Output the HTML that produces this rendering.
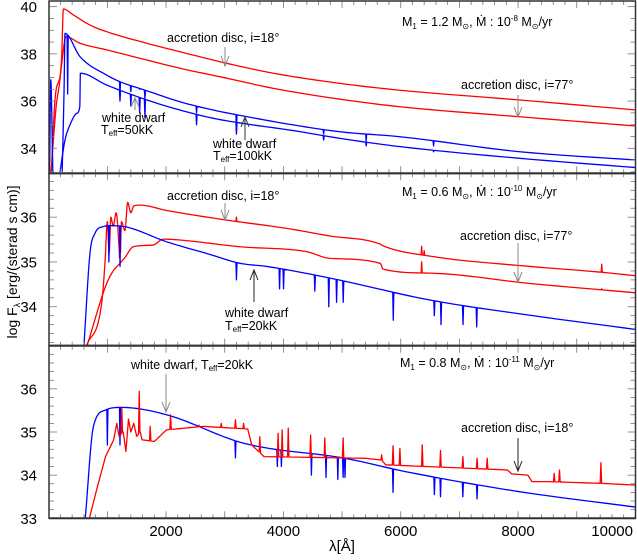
<!DOCTYPE html>
<html><head><meta charset="utf-8"><style>
html,body{margin:0;padding:0;background:#fff;}
svg{display:block;font-family:"Liberation Sans",sans-serif;}
</style></head><body>
<svg id="chart" width="637" height="560" viewBox="0 0 637 560" xmlns="http://www.w3.org/2000/svg">
<defs>
<clipPath id="c1"><rect x="49" y="1" width="587" height="172.3"/></clipPath>
<clipPath id="c2"><rect x="49" y="173.3" width="587" height="172.4"/></clipPath>
<clipPath id="c3"><rect x="49" y="345.7" width="587" height="172.6"/></clipPath>
</defs>
<g id="series"></g>
<g id="axes"></g>
<g id="annot" font-size="12.5" fill="#000">
 <text x="167" y="42">accretion disc,  i=18°</text>
 <text x="402" y="26">M<tspan font-size="8" dy="3">1</tspan><tspan dy="-3"> = 1.2 M</tspan><tspan font-size="8" dy="3">⊙</tspan><tspan dy="-3">, Ṁ :  10</tspan><tspan font-size="8" dy="-5">-8</tspan><tspan dy="5"> M</tspan><tspan font-size="8" dy="3">⊙</tspan><tspan dy="-3">/yr</tspan></text>
 <text x="461" y="89">accretion disc, i=77°</text>
 <text x="102" y="122">white dwarf</text>
 <text x="101" y="134">T<tspan font-size="8" dy="2">eff</tspan><tspan dy="-2">=50kK</tspan></text>
 <text x="213" y="148">white dwarf</text>
 <text x="213" y="160">T<tspan font-size="8" dy="2">eff</tspan><tspan dy="-2">=100kK</tspan></text>
 <text x="167" y="200">accretion disc,  i=18°</text>
 <text x="402" y="196">M<tspan font-size="8" dy="3">1</tspan><tspan dy="-3"> = 0.6 M</tspan><tspan font-size="8" dy="3">⊙</tspan><tspan dy="-3">, Ṁ :  10</tspan><tspan font-size="8" dy="-5">-10</tspan><tspan dy="5"> M</tspan><tspan font-size="8" dy="3">⊙</tspan><tspan dy="-3">/yr</tspan></text>
 <text x="460" y="240">accretion disc, i=77°</text>
 <text x="225" y="317">white dwarf</text>
 <text x="225" y="330">T<tspan font-size="8" dy="2">eff</tspan><tspan dy="-2">=20kK</tspan></text>
 <text x="131" y="369">white dwarf, T<tspan font-size="8" dy="2">eff</tspan><tspan dy="-2">=20kK</tspan></text>
 <text x="400" y="367">M<tspan font-size="8" dy="3">1</tspan><tspan dy="-3"> = 0.8 M</tspan><tspan font-size="8" dy="3">⊙</tspan><tspan dy="-3">, Ṁ :  10</tspan><tspan font-size="8" dy="-5">-11</tspan><tspan dy="5"> M</tspan><tspan font-size="8" dy="3">⊙</tspan><tspan dy="-3">/yr</tspan></text>
 <text x="461" y="432">accretion disc, i=18°</text>
 <g stroke="#888" fill="none" stroke-width="1">
  <path d="M225 47V66M221 56L225 66L229 56"/>
  <path d="M518 95V117M514 107L518 117L522 107"/>
  <path d="M135 110V98M131 107L135 98L139 107"/>
  <path d="M245 140V117M241 127L245 117L249 127" stroke="#333"/>
  <path d="M225 203V220M221 210L225 220L229 210"/>
  <path d="M518 243V282M514 272L518 282L522 272"/>
  <path d="M254 302V270M250 280L254 270L258 280" stroke="#222"/>
  <path d="M166 374V412M162 402L166 412L170 402"/>
  <path d="M518 438V471M514 461L518 471L522 461" stroke="#222"/>
 </g>
 <text transform="translate(17,262) rotate(-90)" text-anchor="middle" font-size="14">log F<tspan font-size="9" dy="3">λ</tspan><tspan dy="-3"> [erg/(sterad s cm)]</tspan></text>
 <text x="342" y="551" text-anchor="middle" font-size="15">λ[Å]</text>
</g>
</svg>
<script>
// ---------- data ----------
const p1Disc18Lam = [40,120,221,250,420,704,988,1670,2238,3034,3829,4965,5988,8004,10022];
const p1Disc18Val = [33,35.6,37.88,39.9,39.65,39.22,38.94,38.45,38.09,37.6,37.18,36.75,36.46,36.05,35.62];
const p1Disc77Lam = [45,107,193,295,534,988,1670,2238,3034,3829,4965,5988,8004,10022];
const p1Disc77Val = [33,36.05,37.03,38.73,38.45,38.17,37.74,37.39,36.97,36.54,36.08,35.76,35.34,34.94];
const p1Wd50Lam = [230,262,278,534,988,1215,1670,2238,2806,3375,4170,4965,5988,8004,10022];
const p1Wd50Val = [33,36.5,38.87,37.88,37.1,36.82,36.44,35.97,35.62,35.34,34.99,34.70,34.49,33.86,33.5];
const p1Wd100Lam = [193,278,363,477,530,540,988,1670,2238,2806,3375,4170,4965,5988,8004,10022];
const p1Wd100Val = [33,34.35,34.99,35.48,35.77,37.18,36.68,36.05,35.62,35.27,35.03,34.75,34.42,34.07,33.58,33.18];
const p1SpikeLam = [15,35,70];
const p1SpikeVal = [33,36.9,33];
const p1Wd50Abs = [[323,36.3],[1215,36.3],[1400,36.4],[1550,36.5],[1640,36.1],[2520,35.5],[3200,34.7],[4686,34.6],[5411,34.3],[6560,34.1]];
const p1Wd100Abs = [[1215,36.0],[1400,35.8],[1550,35.5],[1640,35.3],[2520,35.0],[3200,34.6],[4686,34.35],[5411,34.1],[6560,33.85]];
const p2Disc18Lam = [647,903,960,1000,1030,1060,1100,1150,1200,1216,1240,1300,1346,1400,1450,1556,2011,3005,4057,4795,5650,5700,6499,8204,9340,10022];
const p2Disc18Val = [33.14,34.08,35.0,35.9,35.2,36.0,35.8,36.1,35.3,34.9,35.9,35.7,36.33,36.1,36.25,36.27,36.15,35.94,35.75,35.58,35.40,35.36,35.13,34.9,34.78,34.69];
const p2Disc77Lam = [647,988,1100,1215,1300,1442,1783,1953,2238,3261,4397,4795,5650,5700,6499,8204,10022];
const p2Disc77Val = [33.1,34.52,34.8,34.97,35.1,35.34,35.38,35.51,35.49,35.34,35.23,35.08,34.97,34.84,34.75,34.52,34.31];
const p2WdLam = [601,704,789,931,1074,1329,2011,2693,3261,3716,4795,6499,8204,10022];
const p2WdVal = [33.14,35.2,35.64,35.79,35.81,35.78,35.45,35.19,34.97,34.9,34.64,34.15,33.81,33.49];
const p2WdAbs = [[1026,35.0],[1216,34.9],[3200,34.6],[3935,34.4],[4003,34.4],[4536,34.35],[4774,34.0],[4907,34.1],[5020,34.1],[5873,33.7],[6573,33.8],[6687,33.6],[7062,33.6],[7295,33.55]];
const p2Disc18Em = [[1216,35.6],[3200,36.0],[6357,35.35],[6400,35.25],[9426,34.95]];
const p2Disc77Em = [[6357,35.0],[9426,34.4]];
const p3DiscLam = [693,830,969,1108,1160,1200,1270,1316,1360,1400,1450,1500,1560,1590,1800,2008,2630,3392,3460,3670,5398,5674,5743,7820,7890,8167,8236,8510,9414,10000];
const p3DiscVal = [33,33.73,34.43,34.82,35.2,34.9,35.0,34.55,35.3,35.0,35.2,34.9,35.0,34.82,34.78,35.05,35.13,35.07,34.70,34.43,34.39,34.35,34.24,34.12,34.03,34.0,33.85,33.85,33.81,33.77];
const p3DiscEm = [[1246,35.55],[1543,35.94],[1730,35.13],[2077,35.40],[2560,35.16],[2941,35.20],[3183,35.28],[3322,35.20],[3599,34.89],[3910,34.97],[3979,35.05],[4083,35.09],[4464,34.93],[4706,34.86],[5018,34.86],[5675,34.47],[5869,34.68],[5986,34.62],[6367,34.70],[6678,34.57],[7059,34.43],[7301,34.39],[7474,34.39],[8616,34.04],[8706,34.12],[9412,34.29]];
const p3WdLam = [623,762,969,1246,2007,3322,5052,6090,8007,10000];
const p3WdVal = [33,35.13,35.51,35.57,35.4,34.74,34.39,34.08,33.62,33.26];
const p3WdAbs = [[1000,34.7],[1215,34.7],[3183,34.4],[3897,34.2],[3966,34.2],[4478,34.0],[4727,33.95],[4928,33.9],[5018,33.95],[5050,33.95],[5869,33.6],[6574,33.55],[6678,33.5],[7059,33.5],[7301,33.45]];
const xTickLabels = ["2000","4000","6000","8000","10000"];
const p1YTicks = [34,36,38,40];
const p2YTicks = [34,35,36];
const p3YTicks = [33,34,35,36];

const panels = [
  {top:1, bottom:173.3, vmin:32.94, vmax:40.24, clip:'c1', minor:0.5},
  {top:173.3, bottom:345.7, vmin:33.13, vmax:36.98, clip:'c2', minor:0.2},
  {top:345.7, bottom:518.3, vmin:33, vmax:37.0, clip:'c3', minor:0.2}
];
const X0 = 48.7, X1 = 635.4, LMAX = 10000;
function xs(l){ return X0 + l/LMAX*(X1-X0); }
function ys(p,v){ return p.bottom - (v-p.vmin)/(p.vmax-p.vmin)*(p.bottom-p.top); }
function slopes(lam,val,linear){
  const n=lam.length, d=[], m=new Array(n).fill(0);
  for(let i=0;i<n-1;i++) d.push((val[i+1]-val[i])/(lam[i+1]-lam[i]));
  if(linear) return null;
  m[0]=d[0]; m[n-1]=d[n-2];
  for(let i=1;i<n-1;i++){ m[i]=(d[i-1]*d[i]<=0)?0:(d[i-1]+d[i])/2; }
  for(let i=0;i<n-1;i++){
    if(d[i]===0){m[i]=0;m[i+1]=0;continue;}
    const a=m[i]/d[i], b=m[i+1]/d[i], s=a*a+b*b;
    if(s>9){const t=3/Math.sqrt(s); m[i]=t*a*d[i]; m[i+1]=t*b*d[i];}
  }
  return m;
}
function evalS(lam,val,m,l){
  if(l<=lam[0]) return val[0];
  if(l>=lam[lam.length-1]) return val[val.length-1];
  let i=1; while(l>lam[i]) i++;
  const h=lam[i]-lam[i-1], t=(l-lam[i-1])/h;
  if(!m) return val[i-1]+t*(val[i]-val[i-1]);
  const t2=t*t, t3=t2*t;
  return (2*t3-3*t2+1)*val[i-1]+(t3-2*t2+t)*h*m[i-1]+(-2*t3+3*t2)*val[i]+(t3-t2)*h*m[i];
}
const NS='http://www.w3.org/2000/svg';
const gS=document.getElementById('series'), gA=document.getElementById('axes');
function buildPts(lam,val,feats,w,linear){
  const m=slopes(lam,val,linear);
  let pts=[];
  for(let i=0;i<lam.length-1;i++){
    const k=8;
    for(let j=0;j<k;j++){ const l=lam[i]+(lam[i+1]-lam[i])*j/k; pts.push([l,evalS(lam,val,m,l)]); }
  }
  pts.push([lam[lam.length-1],val[val.length-1]]);
  (feats||[]).forEach(f=>{
    const l=f[0];
    if(l<lam[0]||l>lam[lam.length-1]) return;
    pts=pts.filter(q=>Math.abs(q[0]-l)>=w);
    pts.push([l-w,evalS(lam,val,m,l-w)]); pts.push([l,f[1]]); pts.push([l+w,evalS(lam,val,m,l+w)]);
  });
  pts.sort((a,b)=>a[0]-b[0]);
  return pts;
}
function drawSeries(pi,lam,val,feats,color,name,w,linear){
  const p=panels[pi];
  const pts=buildPts(lam,val,feats,w||9,linear);
  const pl=document.createElementNS(NS,'polyline');
  
  
  pl.setAttribute('points', pts.map(q=>xs(q[0]).toFixed(2)+','+ys(p,q[1]).toFixed(2)).join(' '));
  pl.setAttribute('fill','none'); pl.setAttribute('stroke',color); pl.setAttribute('stroke-width','1.3');
  pl.setAttribute('stroke-linejoin','round');
  pl.setAttribute('clip-path','url(#'+p.clip+')');
  gS.appendChild(pl);
}
drawSeries(0,p1Disc18Lam,p1Disc18Val,[],'#f00','p1-disc-18-line');
drawSeries(0,p1Disc77Lam,p1Disc77Val,[],'#f00','p1-disc-77-line');
drawSeries(0,p1Wd50Lam,p1Wd50Val,p1Wd50Abs,'#00f','p1-wd-50kK-line');
drawSeries(0,p1Wd100Lam,p1Wd100Val,p1Wd100Abs,'#00f','p1-wd-100kK-line');
drawSeries(0,p1SpikeLam,p1SpikeVal,[],'#00f','p1-wd-spike-line');
drawSeries(1,p2Disc18Lam,p2Disc18Val,p2Disc18Em,'#f00','p2-disc-18-line');
drawSeries(1,p2Disc77Lam,p2Disc77Val,p2Disc77Em,'#f00','p2-disc-77-line');
drawSeries(1,p2WdLam,p2WdVal,p2WdAbs,'#00f','p2-wd-20kK-line');
drawSeries(2,p3WdLam,p3WdVal,p3WdAbs,'#00f','p3-wd-20kK-line');
drawSeries(2,p3DiscLam,p3DiscVal,p3DiscEm,'#f00','p3-disc-18-line',12,true);

function line(x1,y1,x2,y2,w,c){
  const l=document.createElementNS(NS,'line');
  l.setAttribute('x1',x1);l.setAttribute('y1',y1);l.setAttribute('x2',x2);l.setAttribute('y2',y2);
  l.setAttribute('stroke',c||'#444');l.setAttribute('stroke-width',w||1);
  gA.appendChild(l); return l;
}
const yTickSets=[p1YTicks,p2YTicks,p3YTicks];
panels.forEach((p,pi)=>{
  for(let l=200;l<LMAX;l+=200){
    const major = l%1000===0, len = major?7:4, x=xs(l);
    line(x,p.bottom,x,p.bottom-len,0.8,'#777');
    line(x,p.top,x,p.top+len,0.8,'#777');
  }
  const start=Math.ceil(p.vmin/p.minor-1e-6)*p.minor;
  for(let v=start; v<=p.vmax+1e-6; v+=p.minor){
    const y=ys(p,v), major=Math.abs(v-Math.round(v))<1e-6 && (pi>0 || Math.round(v)%2===0);
    const len=major?8:5;
    line(49,y,49+len,y,0.8,'#777');
    line(635.5,y,635.5-len,y,0.8,'#777');
  }
  yTickSets[pi].forEach(v=>{
    const t=document.createElementNS(NS,'text');
    
    
    t.setAttribute('x',37); t.setAttribute('y',ys(p,v)+5.5);
    t.setAttribute('text-anchor','end'); t.setAttribute('font-size','15');
    t.textContent=String(v); gA.appendChild(t);
  });
  const fr=document.createElementNS(NS,'rect');
  
  
  fr.setAttribute('x',49);fr.setAttribute('y',p.top);fr.setAttribute('width',586.5);fr.setAttribute('height',p.bottom-p.top);
  fr.setAttribute('fill','none');fr.setAttribute('stroke','#333');fr.setAttribute('stroke-width',1.5);
  gA.appendChild(fr);
});
line(49,173.3,636,173.3,2.2,'#333');
line(49,345.7,636,345.7,2.2,'#333');
line(49,518.3,636,518.3,2,'#333');
xTickLabels.forEach((s,i)=>{
  const t=document.createElementNS(NS,'text');
  
  
  const l=parseFloat(s);
  const x=xs(l);
  t.setAttribute('x', l>=LMAX ? 633 : x);
  t.setAttribute('y',536);
  t.setAttribute('text-anchor', l>=LMAX ? 'end':'middle');
  t.setAttribute('font-size','15');
  t.textContent=s; gA.appendChild(t);
});
</script>
</body></html>
